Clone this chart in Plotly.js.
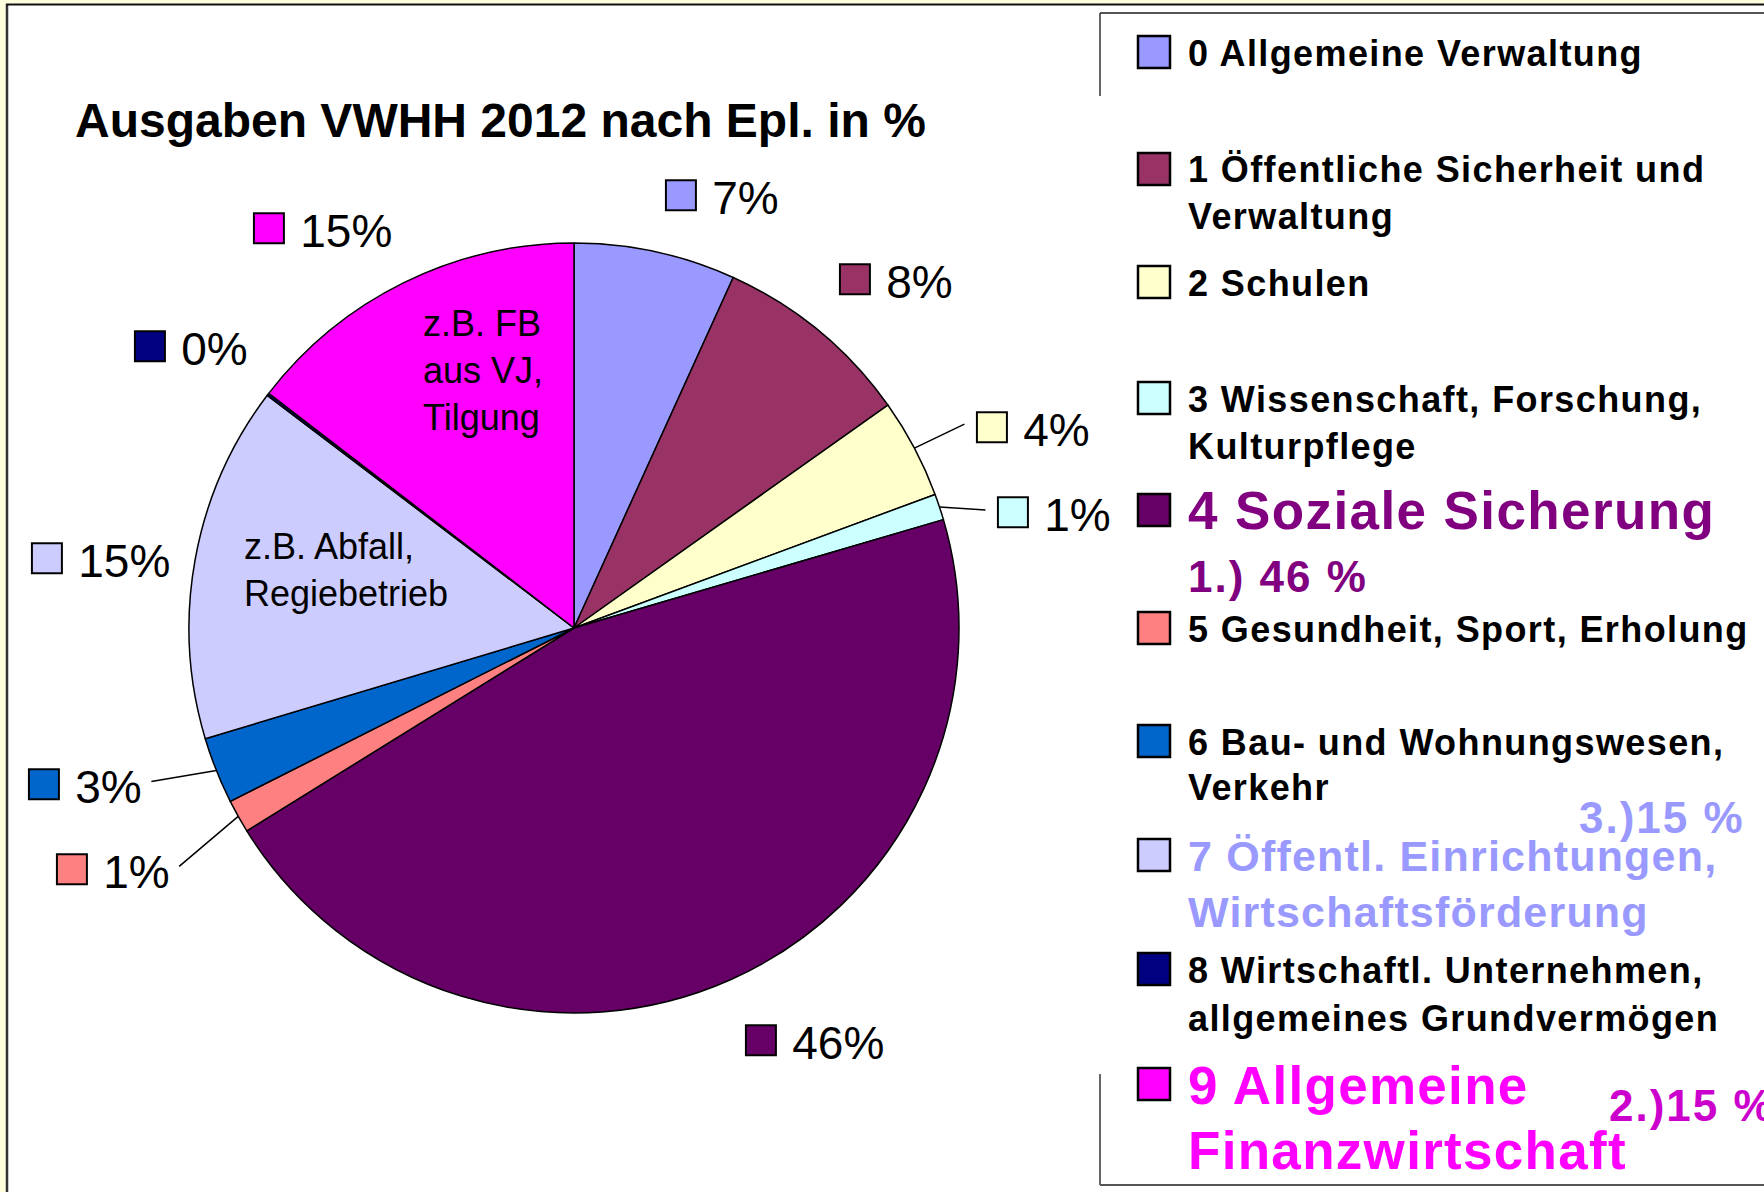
<!DOCTYPE html>
<html>
<head>
<meta charset="utf-8">
<script src="https://cdn.plot.ly/plotly-3.0.1.min.js"></script>
<style>
  html, body { margin: 0; padding: 0; background: #fff; }
  #chart { width: 1764px; height: 1192px; }
</style>
</head>
<body>
<div id="chart"></div>
<script>
// Ausgaben VWHH 2012 nach Einzelplan, Anteil in %
const legendLines = [
    ['0 Allgemeine Verwaltung'],
    ['1 Öffentliche Sicherheit und', 'Verwaltung'],
    ['2 Schulen'],
    ['3 Wissenschaft, Forschung,', 'Kulturpflege'],
    ['4 Soziale Sicherung'],
    ['5 Gesundheit, Sport, Erholung'],
    ['6 Bau- und Wohnungswesen,', 'Verkehr'],
    ['7 Öffentl. Einrichtungen,', 'Wirtschaftsförderung'],
    ['8 Wirtschaftl. Unternehmen,', 'allgemeines Grundvermögen'],
    ['9 Allgemeine', 'Finanzwirtschaft']
];
const categories = legendLines.map(l => l.join(' '));
const shares = [6.8, 8.4, 4.2, 1.1, 45.8, 1.4, 2.8, 15.0, 0.1, 14.6];
const colors = ['#9999FF', '#993366', '#FFFFCC', '#CCFFFF', '#660066',
                '#FF8080', '#0066CC', '#CCCCFF', '#000080', '#FF00FF'];
const sliceNotes = { 9: 'z.B. FB<br>aus VJ,<br>Tilgung', 7: 'z.B. Abfall,<br>Regiebetrieb' };
const rankLabels = ['1.) 46 %', '2.)15 %', '3.)15 %'];
const titleText = 'Ausgaben VWHH 2012 nach Epl. in %';

// page geometry (pixels)
const W = 1764, H = 1192;
const px = x => x / W;
const py = y => 1 - y / H;
const pieCx = 574, pieCy = 628, pieR = 385;
const FONT = 'Liberation Sans, Arial, sans-serif';

// labels with leader lines: offset of the label from the slice edge
const leaders = { 2: [50, -24], 3: [46, 3], 5: [-59, 50], 6: [-65, 11] };
// note placement inside slices: [radius factor, angle shift in degrees]
const notePlace = { 9: [0.71, 6.8], 7: [0.61, 4] };

// legend layout
const legendRowY = [52, 169, 282, 398, 510, 628, 741, 855, 969, 1084];
const baseStyle = { size: 36, color: '#000', ls: 1.4, gap: 47 };
const legendStyle = {
    4: { size: 53, color: '#800080', ls: 1.4 },
    6: { gap: 45 },
    7: { size: 43, color: '#9999FF', ls: 1.2, gap: 56 },
    8: { gap: 48 },
    9: { size: 53, color: '#FF00FF', ls: 1.3, gap: 65 }
};
const rankPos = [
    { x: 1186, y: 576, color: '#800080' },
    { x: 1607, y: 1105, color: '#CC00CC' },
    { x: 1577, y: 817, color: '#9999FF' }
];

const total = shares.reduce((a, b) => a + b, 0);
const annotations = [];
const shapes = [];

function polar(angleDeg, r) {
    const a = angleDeg * Math.PI / 180;
    return [pieCx + r * Math.sin(a), pieCy - r * Math.cos(a)];
}

// percentage labels around the pie
let start = 0;
shares.forEach((v, i) => {
    const pct = v / total * 100;
    const span = pct * 3.6;
    const mid = start + span / 2;
    start += span;
    const s = Math.sin(mid * Math.PI / 180);
    const c = Math.cos(mid * Math.PI / 180);
    const text = `<span style="color:${colors[i]};stroke:#000;stroke-width:2px;font-size:62px">■</span> ${Math.round(pct)}%`;
    const font = { family: FONT, size: 46, color: '#000' };
    if (leaders[i]) {
        const [ex, ey] = polar(mid, pieR);
        annotations.push({
            xref: 'paper', yref: 'paper', x: px(ex), y: py(ey),
            ax: leaders[i][0], ay: leaders[i][1],
            xanchor: s >= 0 ? 'left' : 'right', yanchor: 'middle',
            showarrow: true, arrowhead: 0, arrowwidth: 1.5, arrowcolor: '#000',
            standoff: 0, borderpad: 8, text, font
        });
    } else {
        const [lx, ly] = polar(mid, pieR * 1.06);
        annotations.push({
            xref: 'paper', yref: 'paper', x: px(lx), y: py(ly),
            xanchor: s >= 0 ? 'left' : 'right',
            yanchor: c > 0.3 ? 'bottom' : (c < -0.3 ? 'top' : 'middle'),
            showarrow: false, text, font
        });
    }
    if (sliceNotes[i]) {
        const [nx, ny] = polar(mid + notePlace[i][1], pieR * notePlace[i][0]);
        annotations.push({
            xref: 'paper', yref: 'paper', x: px(nx), y: py(ny),
            xanchor: 'center', yanchor: 'middle', align: 'left',
            showarrow: false, text: sliceNotes[i],
            font: { family: FONT, size: 36, color: '#000' }
        });
    }
});

// legend: keys and text lines
legendLines.forEach((lines, i) => {
    const st = Object.assign({}, baseStyle, legendStyle[i] || {});
    const cy = legendRowY[i];
    shapes.push({
        type: 'rect', xref: 'paper', yref: 'paper',
        x0: px(1138), x1: px(1170), y0: py(cy + 16), y1: py(cy - 16),
        fillcolor: colors[i], line: { color: '#000', width: 2.5 }
    });
    lines.forEach((line, k) => {
        annotations.push({
            xref: 'paper', yref: 'paper', x: px(1186), y: py(cy + 1 + k * st.gap),
            xanchor: 'left', yanchor: 'middle', showarrow: false,
            text: `<span style="letter-spacing:${st.ls}px">${line}</span>`,
            font: { family: FONT, size: st.size, color: st.color, weight: 'bold' }
        });
    });
});

rankLabels.forEach((t, i) => {
    annotations.push({
        xref: 'paper', yref: 'paper', x: px(rankPos[i].x), y: py(rankPos[i].y),
        xanchor: 'left', yanchor: 'middle', showarrow: false,
        text: `<span style="letter-spacing:2px">${t}</span>`,
        font: { family: FONT, size: 44, color: rankPos[i].color, weight: 'bold' }
    });
});

// page frame and legend box
const line = (x0, y0, x1, y1, color, width) => ({
    type: 'line', xref: 'paper', yref: 'paper',
    x0: px(x0), y0: py(y0), x1: px(x1), y1: py(y1),
    line: { color, width }
});
shapes.push(
    { type: 'rect', xref: 'paper', yref: 'paper', x0: 0, x1: px(6), y0: 0, y1: 1,
      fillcolor: '#FFFFDD', line: { width: 0 }, layer: 'below' },
    { type: 'rect', xref: 'paper', yref: 'paper', x0: 0, x1: 1, y0: py(3.5), y1: 1,
      fillcolor: '#FFFFDD', line: { width: 0 }, layer: 'below' },
    line(7, 4, 7, H, '#333', 2.5),
    line(6, 4.5, W, 4.5, '#111', 2),
    line(1100, 13, W, 13, '#555', 2),
    line(1100, 13, 1100, 96, '#333', 1.5),
    line(1100, 1074, 1100, 1185, '#333', 1.5),
    line(1100, 1185, W, 1185, '#555', 2)
);

const trace = {
    type: 'pie',
    values: shares,
    labels: categories,
    sort: false,
    direction: 'clockwise',
    rotation: 0,
    textinfo: 'none',
    hoverinfo: 'label+percent',
    marker: { colors: colors, line: { color: '#000', width: 1.5 } },
    domain: {
        x: [px(pieCx - pieR), px(pieCx + pieR)],
        y: [py(pieCy + pieR), py(pieCy - pieR)]
    },
    showlegend: false
};

const layout = {
    width: W,
    height: H,
    margin: { l: 0, r: 0, t: 0, b: 0 },
    paper_bgcolor: '#FFFFFF',
    showlegend: false,
    title: {
        text: titleText,
        x: px(75), xanchor: 'left',
        y: py(120), yanchor: 'middle',
        font: { family: FONT, size: 48, color: '#000', weight: 'bold' }
    },
    annotations: annotations,
    shapes: shapes
};

Plotly.newPlot('chart', [trace], layout, { displayModeBar: false, staticPlot: true });
</script>
</body>
</html>
